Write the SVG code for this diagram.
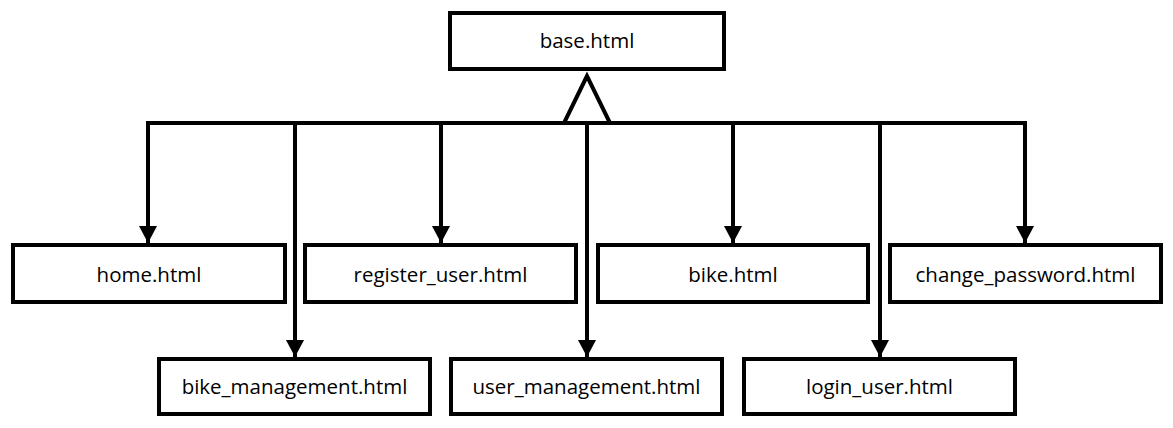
<svg xmlns="http://www.w3.org/2000/svg" width="1173" height="428" viewBox="0 0 1173 428">
<style>
.box{fill:#fff;stroke:#000;stroke-width:4}
.lbl{font-family:"Open Sans","Liberation Sans",sans-serif;font-size:20.5px;fill:#000;text-anchor:middle}
.con{fill:none;stroke:#000;stroke-width:4}
</style>
<defs>
<marker id="arr" markerUnits="userSpaceOnUse" markerWidth="18" markerHeight="18" refX="17" refY="9" orient="auto">
<path d="M0,0 L17,9 L0,18 z" fill="#000"/>
</marker>
</defs>
<rect width="1173" height="428" fill="#fff"/>
<g id="connectors">
<line class="con" x1="146" y1="123" x2="1027" y2="123"/>
<line class="con" x1="148" y1="121" x2="148" y2="243" marker-end="url(#arr)"/>
<line class="con" x1="295" y1="121" x2="295" y2="357" marker-end="url(#arr)"/>
<line class="con" x1="441" y1="121" x2="441" y2="243" marker-end="url(#arr)"/>
<line class="con" x1="587" y1="121" x2="587" y2="357" marker-end="url(#arr)"/>
<line class="con" x1="733" y1="121" x2="733" y2="243" marker-end="url(#arr)"/>
<line class="con" x1="880" y1="121" x2="880" y2="357" marker-end="url(#arr)"/>
<line class="con" x1="1025" y1="121" x2="1025" y2="243" marker-end="url(#arr)"/>
<polygon class="con" points="587,76 564,123 610,123" style="fill:#fff"/>
</g>
<g id="base"><rect class="box" x="450" y="13" width="274" height="56"/><text class="lbl" x="587" y="48">base.html</text></g>
<g id="home"><rect class="box" x="13" y="245" width="272" height="57"/><text class="lbl" x="149" y="282">home.html</text></g>
<g id="register_user"><rect class="box" x="305" y="245" width="271" height="57"/><text class="lbl" x="440.5" y="282">register_user.html</text></g>
<g id="bike"><rect class="box" x="598" y="245" width="270" height="57"/><text class="lbl" x="733" y="282">bike.html</text></g>
<g id="change_password"><rect class="box" x="890" y="245" width="271" height="57"/><text class="lbl" x="1025.5" y="282">change_password.html</text></g>
<g id="bike_management"><rect class="box" x="159" y="359" width="271" height="55"/><text class="lbl" x="294.5" y="394">bike_management.html</text></g>
<g id="user_management"><rect class="box" x="451" y="359" width="271" height="55"/><text class="lbl" x="586.5" y="394">user_management.html</text></g>
<g id="login_user"><rect class="box" x="744" y="359" width="271" height="55"/><text class="lbl" x="879.5" y="394">login_user.html</text></g>
</svg>
